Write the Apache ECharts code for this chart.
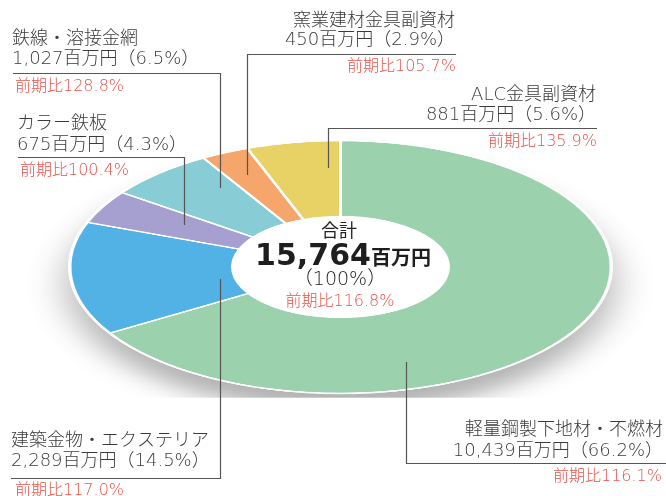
<!DOCTYPE html>
<html>
<head>
<meta charset="utf-8">
<script src="https://cdn.jsdelivr.net/npm/echarts@6/dist/echarts.min.js"></script>
<style>
  html, body { margin: 0; padding: 0; width: 666px; height: 496px; overflow: hidden; background: #fff; }
  /* the pie is drawn round and squashed into an ellipse */
  #pie { position: absolute; left: 0; top: 0; width: 666px; height: 560px; transform-origin: 0 0; transform: translate(0, 136.2px) scale(1, 0.467); }
  #txt { position: absolute; left: 0; top: 0; width: 666px; height: 496px; }
</style>
</head>
<body>
<div id="pie"></div>
<div id="txt"></div>
<script>
let names = ['軽量鋼製下地材・不燃材', '建築金物・エクステリア', 'カラー鉄板', '鉄線・溶接金網', '窯業建材金具副資材', 'ALC金具副資材'];
let amounts = [10439, 2289, 675, 1027, 450, 881];
let shares = [66.2, 14.5, 4.3, 6.5, 2.9, 5.6];
let prevRatios = [116.1, 117.0, 100.4, 128.8, 105.7, 135.9];
let totalAmount = 15764;
let totalShare = 100;
let totalRatio = 116.8;

let colors = ['#9bd2ad', '#52b2e5', '#a6a0d0', '#88ccd5', '#f6a66b', '#e8d266'];
let fontFamily = "'DejaVu Sans', 'Noto Sans CJK JP', sans-serif";
let textColor = '#3a3a3a';
let redColor = '#e5534b';

// label block placement, same order as names
let labelLayout = [
  {align: 'right', x: 663, y1: 430, y2: 451, rx: 662, ry: 477, line: [[666, 463.5], [406.5, 463.5], [406.5, 362]]},
  {align: 'left', x: 11, y1: 441, y2: 461, rx: 15, ry: 491, line: [[11, 478.5], [220.5, 478.5], [220.5, 279]]},
  {align: 'left', x: 17, y1: 124.5, y2: 145, rx: 20, ry: 171, line: [[18, 157.5], [184.5, 157.5], [184.5, 225]]},
  {align: 'left', x: 12, y1: 39.5, y2: 59.5, rx: 15, ry: 87, line: [[13, 73.5], [220.5, 73.5], [220.5, 188]]},
  {align: 'right', x: 455, y1: 21, y2: 40, rx: 456, ry: 67, line: [[456, 54.5], [247.5, 54.5], [247.5, 175]]},
  {align: 'right', x: 596, y1: 95, y2: 115, rx: 597, ry: 141.5, line: [[597, 128.5], [328.5, 128.5], [328.5, 168]]}
];

function fmt(v) {
  return v.toLocaleString('en-US');
}

let pieChart = echarts.init(document.getElementById('pie'));
pieChart.setOption({
  animation: false,
  series: [
    {
      // white base disc that carries the drop shadow
      type: 'pie',
      silent: true,
      center: [340.5, 280],
      radius: [0, 272.5],
      data: [{value: 1}],
      itemStyle: {color: '#fff', shadowBlur: 40, shadowOffsetY: 38, shadowColor: 'rgba(0,0,0,0.3)'},
      label: {show: false},
      labelLine: {show: false}
    },
    {
      type: 'pie',
      center: [340.5, 280],
      radius: [108, 270.5],
      startAngle: 90,
      clockwise: true,
      data: names.map(function (name, i) {
        return {name: name, value: amounts[i], itemStyle: {color: colors[i]}};
      }),
      itemStyle: {borderColor: '#fff', borderWidth: 3},
      label: {show: false},
      labelLine: {show: false}
    }
  ]
});

let graphics = [];
labelLayout.forEach(function (pos, i) {
  graphics.push({
    type: 'polyline',
    shape: {points: pos.line},
    style: {stroke: '#555', lineWidth: 1.2, fill: null}
  });
  graphics.push({
    type: 'text', x: pos.x, y: pos.y1,
    style: {text: names[i], fontSize: 18, fontWeight: 300, fontFamily: fontFamily, fill: textColor, align: pos.align, verticalAlign: 'middle'}
  });
  graphics.push({
    type: 'text', x: pos.x, y: pos.y2,
    style: {text: fmt(amounts[i]) + '百万円（' + shares[i].toFixed(1) + '%）', fontSize: 18, fontWeight: 300, fontFamily: fontFamily, fill: textColor, align: pos.align, verticalAlign: 'middle'}
  });
  graphics.push({
    type: 'text', x: pos.rx, y: pos.ry,
    style: {text: '前期比' + prevRatios[i].toFixed(1) + '%', fontSize: 16, fontWeight: 300, fontFamily: fontFamily, fill: redColor, align: pos.align, verticalAlign: 'middle'}
  });
});

// centre of the ring
graphics.push({
  type: 'text', x: 339, y: 232,
  style: {text: '合計', fontSize: 18, fontFamily: fontFamily, fill: '#222', align: 'center', verticalAlign: 'middle'}
});
graphics.push({
  type: 'text', x: 343, y: 257,
  style: {
    text: '{a|' + fmt(totalAmount) + '}{b|百万円}',
    align: 'center',
    verticalAlign: 'middle',
    rich: {
      a: {fontSize: 30, fontWeight: 'bold', fontFamily: fontFamily, fill: '#1e1e1e', verticalAlign: 'bottom'},
      b: {fontSize: 20, fontWeight: 'bold', fontFamily: fontFamily, fill: '#1e1e1e', verticalAlign: 'bottom', padding: [0, 0, 2, 0]}
    }
  }
});
graphics.push({
  type: 'text', x: 340, y: 280,
  style: {text: '（' + totalShare + '%）', fontSize: 19, fontWeight: 300, fontFamily: fontFamily, fill: '#222', align: 'center', verticalAlign: 'middle'}
});
graphics.push({
  type: 'text', x: 340, y: 302,
  style: {text: '前期比' + totalRatio.toFixed(1) + '%', fontSize: 16, fontWeight: 300, fontFamily: fontFamily, fill: redColor, align: 'center', verticalAlign: 'middle'}
});

let textChart = echarts.init(document.getElementById('txt'));
textChart.setOption({
  animation: false,
  graphic: graphics
});
</script>
</body>
</html>
